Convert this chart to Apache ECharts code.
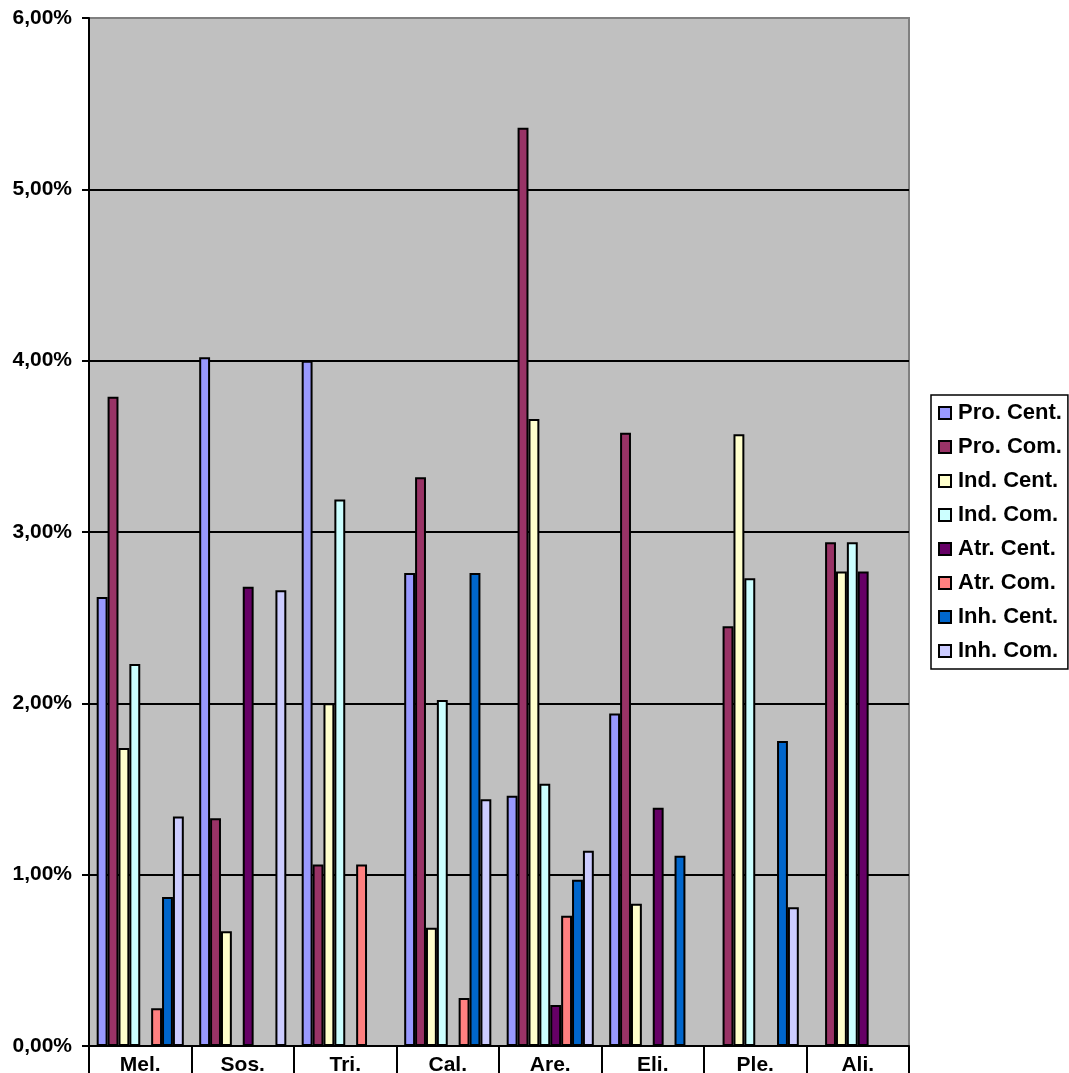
<!DOCTYPE html>
<html>
<head>
<meta charset="utf-8">
<script src="https://cdn.jsdelivr.net/npm/echarts@6/dist/echarts.min.js"></script>
<style>
html,body{margin:0;padding:0;background:#fff;}
#c{width:1069px;height:1073px;}
</style>
</head>
<body>
<div id="c"></div>
<script>
const categories = ['Mel.', 'Sos.', 'Tri.', 'Cal.', 'Are.', 'Eli.', 'Ple.', 'Ali.'];
const yTicks = [0, 1, 2, 3, 4, 5, 6];
const seriesNames = ['Pro. Cent.', 'Pro. Com.', 'Ind. Cent.', 'Ind. Com.', 'Atr. Cent.', 'Atr. Com.', 'Inh. Cent.', 'Inh. Com.'];
const proCent = [2.62, 4.02, 4.00, 2.76, 1.46, 1.94, null, null];
const proCom  = [3.79, 1.33, 1.06, 3.32, 5.36, 3.58, 2.45, 2.94];
const indCent = [1.74, 0.67, 2.00, 0.69, 3.66, 0.83, 3.57, 2.77];
const indCom  = [2.23, null, 3.19, 2.02, 1.53, null, 2.73, 2.94];
const atrCent = [null, 2.68, null, null, 0.24, 1.39, null, 2.77];
const atrCom  = [0.22, null, 1.06, 0.28, 0.76, null, null, null];
const inhCent = [0.87, null, null, 2.76, 0.97, 1.11, 1.78, null];
const inhCom  = [1.34, 2.66, null, 1.44, 1.14, null, 0.81, null];
const colors = ['#9999FF', '#993366', '#FFFFCC', '#CCFFFF', '#660066', '#FF8080', '#0066CC', '#CCCCFF'];

const allData = [proCent, proCom, indCent, indCom, atrCent, atrCom, inhCent, inhCom];
const font = 'Liberation Sans, Arial, sans-serif';

const chart = echarts.init(document.getElementById('c'), null, {renderer: 'canvas'});
chart.setOption({
  animation: false,
  color: colors,
  grid: {
    left: 89, top: 18, width: 820, height: 1028,
    outerBoundsMode: 'none', containLabel: false,
    show: true, backgroundColor: '#C0C0C0', borderColor: '#808080', borderWidth: 2
  },
  legend: {
    orient: 'vertical',
    left: 931, top: 395,
    padding: [7, 6, 7, 7],
    borderColor: '#000', borderWidth: 1.5,
    itemWidth: 12, itemHeight: 12, itemGap: 12,
    icon: 'rect',
    textStyle: {fontFamily: font, fontWeight: 'bold', fontSize: 22, color: '#000', lineHeight: 21, padding: [0, 0, 0, 2]},
    data: seriesNames
  },
  xAxis: {
    type: 'category',
    data: categories,
    axisLine: {show: true, lineStyle: {color: '#000', width: 2}},
    axisTick: {show: true, length: 30, lineStyle: {color: '#000', width: 2}},
    axisLabel: {fontFamily: font, fontWeight: 'bold', fontSize: 21, color: '#000', margin: 9},
    splitLine: {show: false}
  },
  yAxis: {
    type: 'value',
    min: yTicks[0], max: yTicks[yTicks.length - 1], interval: 1,
    axisLine: {show: true, lineStyle: {color: '#000', width: 2}},
    axisTick: {show: true, length: 7, lineStyle: {color: '#000', width: 2}},
    axisLabel: {
      fontFamily: font, fontWeight: 'bold', fontSize: 21, color: '#000', margin: 17,
      formatter: v => v.toFixed(2).replace('.', ',') + '%'
    },
    splitLine: {show: true, lineStyle: {color: ['#000', '#000', '#000', '#000', '#000', '#000', '#808080'], width: 2}}
  },
  series: seriesNames.map((n, i) => ({
    name: n,
    type: 'bar',
    data: allData[i],
    barGap: '0%',
    barCategoryGap: '15%',
    itemStyle: {color: colors[i], borderColor: '#000', borderWidth: 2}
  }))
});
</script>
</body>
</html>
